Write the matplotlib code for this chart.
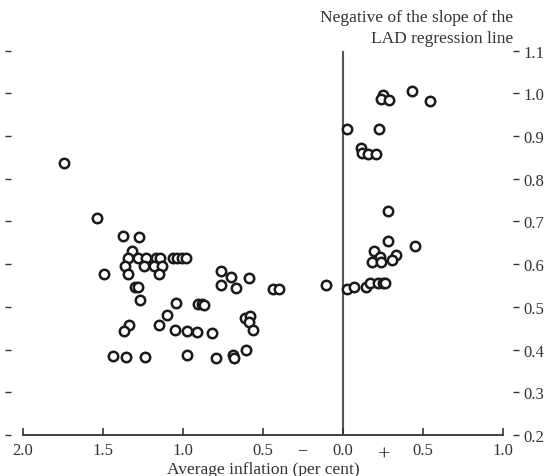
import matplotlib.pyplot as plt
import numpy as np

# average inflation (negative on the left), slope of LAD line
infl = [-1.744, -1.5375, -1.375, -1.275, -1.319,
        -1.344, -1.281, -1.231, -1.169, -1.144,
        -1.0625, -1.0375, -1.006, -0.981,
        -1.3625, -1.244, -1.181, -1.131,
        -1.494, -1.344, -1.15,
        -1.3, -1.281, -1.269, -1.044, -0.906, -0.881, -0.869, -1.1,
        -1.3375, -1.369, -1.15, -1.05, -0.975, -0.9125, -0.819,
        -1.4375, -1.356, -1.2375, -0.975, -0.794, -0.6875, -0.681, -0.606,
        -0.7625, -0.7, -0.5875, -0.7625, -0.669, -0.4375, -0.4, -0.106,
        -0.6125, -0.581, -0.5875, -0.5625,
        0.025, 0.227, 0.25, 0.2375, 0.2875, 0.431, 0.544,
        0.1125, 0.119, 0.156, 0.206,
        0.281, 0.281, 0.45, 0.194, 0.231, 0.331, 0.306, 0.181, 0.2375,
        0.025, 0.069, 0.144, 0.169, 0.219, 0.25, 0.265]
slope = [0.837, 0.708, 0.666, 0.664, 0.631,
         0.615, 0.615, 0.615, 0.615, 0.615,
         0.615, 0.615, 0.615, 0.615,
         0.596, 0.596, 0.596, 0.596,
         0.577, 0.577, 0.577,
         0.547, 0.547, 0.516, 0.509, 0.507, 0.507, 0.505, 0.481,
         0.458, 0.444, 0.458, 0.446, 0.444, 0.441, 0.439,
         0.385, 0.383, 0.383, 0.387, 0.380, 0.387, 0.380, 0.399,
         0.584, 0.570, 0.568, 0.551, 0.544, 0.542, 0.542, 0.551,
         0.474, 0.479, 0.465, 0.446,
         0.917, 0.917, 0.996, 0.987, 0.985, 1.006, 0.982,
         0.872, 0.860, 0.858, 0.858,
         0.725, 0.654, 0.643, 0.631, 0.617, 0.622, 0.610, 0.605, 0.605,
         0.542, 0.547, 0.547, 0.556, 0.556, 0.556, 0.556]

xticks = [-2.0, -1.5, -1.0, -0.5, 0.0, 0.5, 1.0]
yticks = [0.2, 0.3, 0.4, 0.5, 0.6, 0.7, 0.8, 0.9, 1.0, 1.1]

plt.rcParams['font.family'] = 'Liberation Serif'
plt.rcParams['font.size'] = 12

fig = plt.figure(figsize=(5.45, 4.77), dpi=100)
ax = fig.add_axes([23 / 545, 41 / 477, 480 / 545, 384.5 / 477])

ax.axvline(0, color='#555555', lw=1.5, zorder=1)
ax.scatter(infl, slope, s=46, facecolors='white', edgecolors='#1a1a1a',
           linewidths=1.8, zorder=3, clip_on=False)

ax.set_xlim(-2.0, 1.0)
ax.set_ylim(0.2, 1.1)

ax.spines['top'].set_visible(False)
ax.spines['bottom'].set_color('#333333')
ax.spines['bottom'].set_linewidth(1.3)
for side, off in (('left', 9), ('right', 7)):
    ax.spines[side].set_position(('outward', off))
    ax.spines[side].set_visible(False)

ax.set_xticks(xticks)
ax.set_xticklabels(['%.1f' % abs(v) for v in xticks])
ax.tick_params(axis='x', direction='in', length=5, width=1.2, color='#333333',
               labelcolor='#333333', pad=5, labelsize=12)

ax.set_yticks(yticks)
ax.set_yticklabels(['%.1f' % v for v in yticks])
ax.tick_params(axis='y', left=True, right=True, labelleft=False, labelright=True,
               direction='out', length=4, width=1.0, color='#333333',
               labelcolor='#333333', pad=4, labelsize=12)

ax.text(-0.256, -0.039, '\u2212', transform=ax.get_xaxis_transform(),
        ha='center', va='center', color='#333333', fontsize=13)
ax.text(0.256, -0.053, '+', transform=ax.get_xaxis_transform(),
        ha='center', va='center', color='#333333', fontsize=16)

ax.set_xlabel('Average inflation (per cent)', color='#333333', labelpad=2,
              fontsize=12.5)
ax.text(1.021, 1.012, 'Negative of the slope of the\nLAD regression line',
        transform=ax.transAxes, ha='right', va='bottom', color='#333333',
        linespacing=1.4, fontsize=12.5)

fig.savefig('out.png', dpi=100)
